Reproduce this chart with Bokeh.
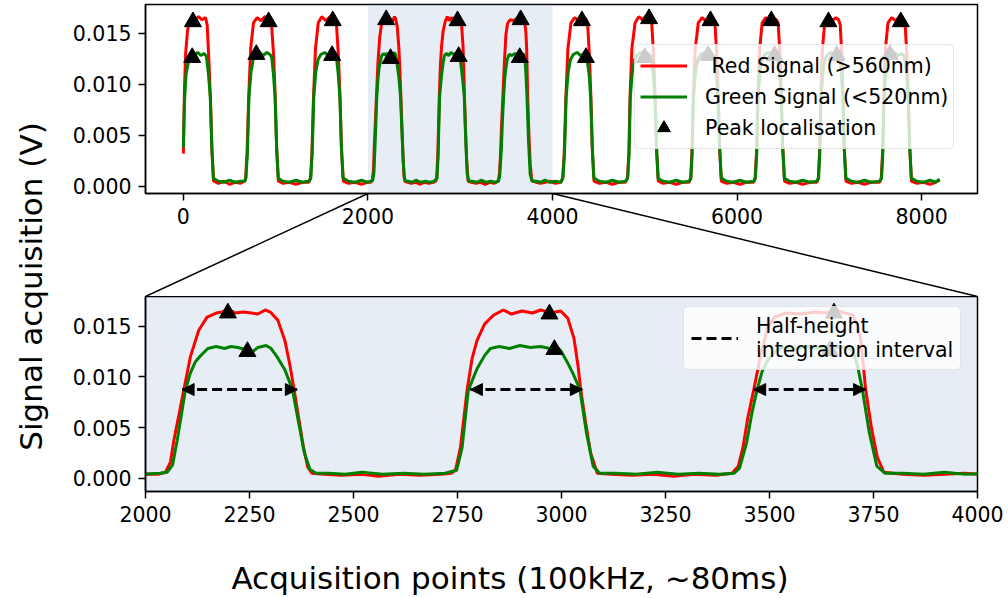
from math import pi
from bokeh.plotting import figure
from bokeh.layouts import row, column
from bokeh.models import (FixedTicker, NumeralTickFormatter, BoxAnnotation, Arrow, NormalHead,
                          Legend, LegendItem, Label, Range1d, ColumnDataSource)
from bokeh.embed import file_html
from bokeh.resources import INLINE

FONT = "DejaVu Sans"

# ---------------- data ----------------
red_signal = [
    (0, 0.0032), (12, 0.0095), (25, 0.0130), (45, 0.0152), (65, 0.0162), (95, 0.0166), (130, 0.0163),
    (165, 0.0166), (200, 0.0163), (240, 0.0165), (258, 0.0158), (276, 0.0125), (294, 0.0085), (310, 0.0035),
    (328, 0.0005), (380, 0.0003), (440, 0.0005), (500, 0.0002), (560, 0.0004), (620, 0.0003), (665, 0.0005),
    (675, 0.0008), (690, 0.0032), (708, 0.0087), (730, 0.0135), (760, 0.0160), (800, 0.0165), (840, 0.0162),
    (885, 0.0166), (925, 0.0164), (955, 0.0160), (978, 0.0128), (996, 0.0087), (1012, 0.0035), (1030, 0.0005),
    (1080, 0.0003), (1150, 0.0004), (1220, 0.0002), (1290, 0.0004), (1360, 0.0004),
    (1378, 0.0008), (1393, 0.0032), (1410, 0.0087), (1432, 0.0135), (1462, 0.0160), (1500, 0.0166),
    (1545, 0.0162), (1590, 0.0166), (1630, 0.0164), (1658, 0.0160), (1680, 0.0128), (1698, 0.0087),
    (1714, 0.0035), (1734, 0.0005), (1790, 0.0003), (1860, 0.0004), (1930, 0.0002), (1990, 0.0004),
    (2030, 0.0004),
    (2048, 0.0006), (2060, 0.0016), (2068, 0.0037), (2080, 0.0062), (2092, 0.0087), (2108, 0.0120),
    (2128, 0.0146), (2148, 0.0159), (2170, 0.0163), (2185, 0.0164), (2200, 0.0167), (2215, 0.0163),
    (2235, 0.0164), (2255, 0.0163), (2270, 0.0162), (2288, 0.0166), (2300, 0.0164), (2318, 0.0156),
    (2335, 0.0136), (2347, 0.0112), (2357, 0.0088), (2368, 0.0060), (2380, 0.0030), (2390, 0.0011),
    (2400, 0.0005), (2430, 0.0004), (2470, 0.0003), (2520, 0.0004), (2560, 0.0002), (2610, 0.0004),
    (2660, 0.0003), (2710, 0.0004), (2735, 0.0005),
    (2745, 0.0008), (2757, 0.0030), (2773, 0.0087), (2785, 0.0118), (2797, 0.0136), (2815, 0.0152),
    (2837, 0.0161), (2860, 0.0166), (2880, 0.0162), (2905, 0.0165), (2930, 0.0163), (2950, 0.0166),
    (2975, 0.0163), (2998, 0.0165), (3015, 0.0158), (3030, 0.0138), (3040, 0.0110), (3046, 0.0088),
    (3058, 0.0055), (3070, 0.0025), (3086, 0.0005), (3120, 0.0004), (3170, 0.0003), (3220, 0.0004),
    (3270, 0.0002), (3320, 0.0004), (3370, 0.0003), (3410, 0.0005),
    (3425, 0.0012), (3436, 0.0030), (3448, 0.0060), (3462, 0.0087), (3478, 0.0120), (3495, 0.0148),
    (3512, 0.0159), (3540, 0.0163), (3575, 0.0162), (3610, 0.0164), (3640, 0.0163), (3655, 0.0167),
    (3680, 0.0163), (3700, 0.0161), (3712, 0.0150), (3720, 0.0135), (3731, 0.0088), (3745, 0.0050),
    (3759, 0.0021), (3775, 0.0006), (3820, 0.0004), (3870, 0.0003), (3920, 0.0004), (3970, 0.0005),
    (4030, 0.0003), (4090, 0.0004),
    (4110, 0.0008), (4127, 0.0032), (4145, 0.0087), (4167, 0.0135), (4200, 0.0160), (4240, 0.0165),
    (4285, 0.0162), (4320, 0.0165), (4360, 0.0164), (4380, 0.0160), (4400, 0.0128), (4416, 0.0087),
    (4432, 0.0035), (4450, 0.0005), (4510, 0.0003), (4580, 0.0004), (4650, 0.0002), (4720, 0.0004),
    (4790, 0.0004),
    (4812, 0.0008), (4827, 0.0032), (4840, 0.0087), (4860, 0.0135), (4895, 0.0160), (4935, 0.0166),
    (4975, 0.0163), (5015, 0.0167), (5050, 0.0165), (5075, 0.0160), (5095, 0.0128), (5112, 0.0087),
    (5128, 0.0035), (5146, 0.0005), (5200, 0.0003), (5270, 0.0004), (5340, 0.0002), (5410, 0.0004),
    (5480, 0.0004),
    (5497, 0.0008), (5510, 0.0032), (5525, 0.0087), (5547, 0.0135), (5580, 0.0160), (5620, 0.0165),
    (5660, 0.0162), (5705, 0.0166), (5740, 0.0164), (5760, 0.0160), (5780, 0.0128), (5796, 0.0087),
    (5812, 0.0035), (5830, 0.0005), (5890, 0.0003), (5960, 0.0004), (6030, 0.0002), (6100, 0.0004),
    (6180, 0.0004),
    (6195, 0.0008), (6210, 0.0032), (6225, 0.0087), (6245, 0.0135), (6272, 0.0160), (6310, 0.0165),
    (6350, 0.0162), (6390, 0.0165), (6425, 0.0163), (6445, 0.0160), (6465, 0.0128), (6480, 0.0087),
    (6496, 0.0035), (6514, 0.0005), (6570, 0.0003), (6640, 0.0004), (6710, 0.0002), (6790, 0.0004),
    (6865, 0.0004),
    (6880, 0.0008), (6893, 0.0032), (6907, 0.0087), (6925, 0.0135), (6950, 0.0160), (6990, 0.0165),
    (7030, 0.0162), (7070, 0.0165), (7100, 0.0163), (7118, 0.0158), (7134, 0.0128), (7148, 0.0087),
    (7162, 0.0035), (7180, 0.0005), (7240, 0.0003), (7310, 0.0004), (7380, 0.0002), (7450, 0.0004),
    (7545, 0.0004),
    (7562, 0.0008), (7576, 0.0032), (7590, 0.0087), (7608, 0.0135), (7635, 0.0160), (7675, 0.0165),
    (7720, 0.0162), (7760, 0.0166), (7800, 0.0164), (7820, 0.0160), (7840, 0.0128), (7856, 0.0087),
    (7872, 0.0035), (7890, 0.0005), (7950, 0.0003), (8020, 0.0004), (8090, 0.0002), (8150, 0.0004),
    (8195, 0.0006),
]

green_signal = [
    (0, 0.0038), (12, 0.0082), (30, 0.0110), (60, 0.0124), (85, 0.0130), (120, 0.0128), (155, 0.0131),
    (190, 0.0128), (225, 0.0130), (250, 0.0127), (272, 0.0110), (292, 0.0087), (308, 0.0040), (325, 0.0008),
    (380, 0.0005), (440, 0.0004), (500, 0.0006), (560, 0.0004), (620, 0.0005), (665, 0.0005),
    (678, 0.0008), (694, 0.0032), (711, 0.0087), (733, 0.0112), (757, 0.0124), (785, 0.0129), (825, 0.0131),
    (865, 0.0128), (905, 0.0131), (940, 0.0129), (958, 0.0126), (976, 0.0110), (994, 0.0087), (1010, 0.0040),
    (1028, 0.0008), (1080, 0.0005), (1150, 0.0004), (1220, 0.0006), (1290, 0.0004), (1360, 0.0005),
    (1381, 0.0008), (1396, 0.0032), (1413, 0.0087), (1435, 0.0112), (1460, 0.0124), (1490, 0.0129),
    (1530, 0.0131), (1570, 0.0128), (1610, 0.0130), (1645, 0.0128), (1660, 0.0125), (1678, 0.0110),
    (1696, 0.0087), (1712, 0.0040), (1730, 0.0008), (1790, 0.0005), (1860, 0.0004), (1930, 0.0006),
    (1990, 0.0004), (2035, 0.0005),
    (2052, 0.0006), (2065, 0.0013), (2076, 0.0037), (2086, 0.0062), (2096, 0.0087), (2108, 0.0104),
    (2120, 0.0115), (2135, 0.0122), (2150, 0.0128), (2170, 0.0130), (2190, 0.0128), (2205, 0.0130),
    (2222, 0.0129), (2240, 0.0127), (2255, 0.0124), (2270, 0.0129), (2290, 0.0131), (2302, 0.0128),
    (2316, 0.0120), (2335, 0.0107), (2353, 0.0088), (2368, 0.0055), (2382, 0.0025), (2395, 0.0009),
    (2410, 0.0005), (2440, 0.0005), (2480, 0.0004), (2520, 0.0006), (2570, 0.0004), (2620, 0.0005),
    (2670, 0.0004), (2720, 0.0005),
    (2748, 0.0008), (2761, 0.0030), (2776, 0.0087), (2797, 0.0108), (2815, 0.0121), (2829, 0.0128),
    (2850, 0.0130), (2875, 0.0128), (2900, 0.0131), (2925, 0.0129), (2950, 0.0130), (2972, 0.0128),
    (2985, 0.0131), (2998, 0.0126), (3012, 0.0116), (3028, 0.0103), (3044, 0.0088), (3060, 0.0045),
    (3076, 0.0012), (3092, 0.0005), (3130, 0.0005), (3180, 0.0004), (3230, 0.0006), (3280, 0.0004),
    (3330, 0.0005), (3380, 0.0004), (3415, 0.0005),
    (3428, 0.0010), (3445, 0.0035), (3458, 0.0065), (3470, 0.0087), (3482, 0.0105), (3494, 0.0115),
    (3510, 0.0124), (3530, 0.0129), (3560, 0.0128), (3595, 0.0130), (3625, 0.0128), (3660, 0.0130),
    (3690, 0.0129), (3702, 0.0124), (3712, 0.0110), (3723, 0.0088), (3740, 0.0045), (3758, 0.0012),
    (3778, 0.0005), (3820, 0.0005), (3870, 0.0004), (3920, 0.0006), (3970, 0.0004), (4030, 0.0005),
    (4090, 0.0004),
    (4113, 0.0008), (4130, 0.0032), (4148, 0.0087), (4170, 0.0112), (4195, 0.0124), (4225, 0.0129),
    (4265, 0.0131), (4305, 0.0128), (4345, 0.0130), (4370, 0.0127), (4396, 0.0110), (4414, 0.0087),
    (4430, 0.0040), (4448, 0.0008), (4510, 0.0005), (4580, 0.0004), (4650, 0.0006), (4720, 0.0004),
    (4790, 0.0005),
    (4815, 0.0008), (4830, 0.0032), (4843, 0.0087), (4865, 0.0112), (4890, 0.0124), (4920, 0.0129),
    (4960, 0.0131), (5000, 0.0128), (5040, 0.0130), (5068, 0.0127), (5092, 0.0110), (5110, 0.0087),
    (5126, 0.0040), (5144, 0.0008), (5200, 0.0005), (5270, 0.0004), (5340, 0.0006), (5410, 0.0004),
    (5480, 0.0005),
    (5500, 0.0008), (5513, 0.0032), (5528, 0.0087), (5550, 0.0112), (5575, 0.0124), (5605, 0.0129),
    (5645, 0.0131), (5685, 0.0129), (5725, 0.0130), (5752, 0.0127), (5776, 0.0110), (5794, 0.0087),
    (5810, 0.0040), (5828, 0.0008), (5890, 0.0005), (5960, 0.0004), (6030, 0.0006), (6100, 0.0004),
    (6180, 0.0005),
    (6198, 0.0008), (6213, 0.0032), (6228, 0.0087), (6248, 0.0112), (6272, 0.0124), (6300, 0.0129),
    (6340, 0.0131), (6380, 0.0128), (6410, 0.0130), (6437, 0.0127), (6461, 0.0110), (6478, 0.0087),
    (6494, 0.0040), (6512, 0.0008), (6570, 0.0005), (6640, 0.0004), (6710, 0.0006), (6790, 0.0004),
    (6865, 0.0005),
    (6883, 0.0008), (6896, 0.0032), (6910, 0.0087), (6930, 0.0112), (6952, 0.0124), (6980, 0.0129),
    (7020, 0.0131), (7060, 0.0128), (7090, 0.0130), (7110, 0.0126), (7130, 0.0110), (7146, 0.0087),
    (7160, 0.0040), (7178, 0.0008), (7240, 0.0005), (7310, 0.0004), (7380, 0.0006), (7450, 0.0004),
    (7545, 0.0005),
    (7565, 0.0008), (7579, 0.0032), (7593, 0.0087), (7613, 0.0112), (7636, 0.0124), (7665, 0.0129),
    (7705, 0.0131), (7745, 0.0128), (7785, 0.0130), (7812, 0.0127), (7836, 0.0110), (7854, 0.0087),
    (7870, 0.0040), (7888, 0.0008), (7950, 0.0005), (8020, 0.0004), (8090, 0.0006), (8150, 0.0004),
    (8195, 0.0007),
]

red_x = [p[0] for p in red_signal]
red_v = [p[1] for p in red_signal]
green_x = [p[0] for p in green_signal]
green_v = [p[1] for p in green_signal]

red_peak_x = [104, 924, 1619, 2198, 2971, 3655, 4319, 5046, 5712, 6371, 6990, 7774]
red_peak_v = [0.0161, 0.0161, 0.0162, 0.0163, 0.0162, 0.0163, 0.0162, 0.0164, 0.0162, 0.0162, 0.0161, 0.0161]
green_peak_x = [96, 791, 1612, 2245, 2983, 3645, 4362, 4999, 5687, 6406, 7080, 7656]
green_peak_v = [0.0126, 0.0129, 0.0128, 0.0125, 0.0127, 0.0126, 0.0126, 0.0126, 0.0128, 0.0128, 0.0128, 0.0129]

half_x_start = [2088, 2781, 3462]
half_x_end = [2365, 3050, 3731]
half_level = [0.00875, 0.00875, 0.00875]

top_xlim = (-410, 8605)
top_ylim = (-0.0007, 0.01779)
zoom_xlim = (2000, 4000)
zoom_ylim = (-0.0013, 0.01793)
top_xticks = [0, 2000, 4000, 6000, 8000]
zoom_xticks = [2000, 2250, 2500, 2750, 3000, 3250, 3500, 3750, 4000]
y_ticks = [0.0, 0.005, 0.010, 0.015]

RED = "#ff0000"
GREEN = "#008000"
SHADE = "#b0c4de"
LW = 3.0
TRI = 17

# ---------------- helpers ----------------
def style(p, xticks):
    p.outline_line_color = "black"
    p.outline_line_width = 1.5
    p.xgrid.visible = False
    p.ygrid.visible = False
    for ax in (p.xaxis[0], p.yaxis[0]):
        ax.axis_line_color = "black"
        ax.axis_line_width = 1.5
        ax.major_tick_line_color = "black"
        ax.major_tick_line_width = 1.5
        ax.major_tick_out = 7
        ax.major_tick_in = 0
        ax.minor_tick_line_color = None
        ax.major_label_text_font = FONT
        ax.major_label_text_font_size = "20.5px"
        ax.major_label_text_color = "black"
        ax.major_label_standoff = 7
    p.xaxis[0].ticker = FixedTicker(ticks=xticks)
    p.yaxis[0].ticker = FixedTicker(ticks=y_ticks)
    p.yaxis[0].formatter = NumeralTickFormatter(format="0.000")


def style_legend(lg, row_h, pad):
    lg.label_text_font = FONT
    lg.label_text_font_size = "20.5px"
    lg.label_text_color = "black"
    lg.glyph_width = 47
    lg.glyph_height = row_h
    lg.label_height = row_h
    lg.spacing = 0
    lg.padding = pad
    lg.margin = 0
    lg.label_standoff = 18
    lg.background_fill_alpha = 0.8
    lg.border_line_color = "#cccccc"
    lg.border_line_width = 1.5
    if "border_radius" in Legend.properties():
        lg.border_radius = 5


# ---------------- layout sizes ----------------
PAGE_W, PAGE_H = 1008, 598
LEFT_W = 60
top_h = 296
top_border_bottom = 103
bot_h = 244

# ---------------- top (overview) panel ----------------
top_xr = Range1d(*top_xlim)
top = figure(width=PAGE_W - LEFT_W, height=top_h,
             x_range=top_xr, y_range=Range1d(*top_ylim),
             output_backend="svg", toolbar_location=None,
             min_border_left=85, min_border_right=31, min_border_top=4,
             min_border_bottom=top_border_bottom)
style(top, top_xticks)
top.background_fill_color = "white"
top.border_fill_color = "white"

top.add_layout(BoxAnnotation(left=zoom_xlim[0], right=zoom_xlim[1], fill_color=SHADE,
                             fill_alpha=0.3, line_alpha=0, level="underlay"))

r_red = top.line(red_x, red_v, line_color=RED, line_width=LW)
r_green = top.line(green_x, green_v, line_color=GREEN, line_width=LW)
r_pr = top.scatter(red_peak_x, red_peak_v, marker="triangle", size=TRI, color="black")
r_pg = top.scatter(green_peak_x, green_peak_v, marker="triangle", size=TRI, color="black")

leg = Legend(items=[LegendItem(label=" Red Signal (>560nm)", renderers=[r_red]),
                    LegendItem(label="Green Signal (<520nm)", renderers=[r_green]),
                    LegendItem(label="Peak localisation", renderers=[r_pr, r_pg])],
             location=(489, 44))
style_legend(leg, 31, 5)
top.add_layout(leg)

# ---------------- connector overlay (transparent, overlaps top panel's lower border) ----------------
conn = figure(width=PAGE_W - LEFT_W, height=top_border_bottom,
              x_range=top_xr, y_range=Range1d(0, 1),
              output_backend="svg", toolbar_location=None,
              x_axis_location=None, y_axis_location=None,
              min_border_left=85, min_border_right=31, min_border_top=0, min_border_bottom=0,
              outline_line_color=None, margin=(-top_border_bottom, 0, 0, 0))
conn.grid.visible = False
conn.background_fill_alpha = 0
conn.border_fill_alpha = 0
conn.segment(x0=[zoom_xlim[0], zoom_xlim[1]], y0=[1, 1], x1=[top_xlim[0], top_xlim[1]], y1=[0, 0],
             line_color="black", line_width=1.5)

# ---------------- bottom (zoom) panel ----------------
bot = figure(width=PAGE_W - LEFT_W, height=bot_h,
             x_range=Range1d(*zoom_xlim), y_range=Range1d(*zoom_ylim),
             output_backend="svg", toolbar_location=None,
             min_border_left=85, min_border_right=31, min_border_top=0, min_border_bottom=49)
style(bot, zoom_xticks)
bot.background_fill_color = SHADE
bot.background_fill_alpha = 0.3
bot.border_fill_color = "white"

bot.line(red_x, red_v, line_color=RED, line_width=LW)
bot.line(green_x, green_v, line_color=GREEN, line_width=LW)
bot.scatter(red_peak_x, red_peak_v, marker="triangle", size=TRI, color="black")
bot.scatter(green_peak_x, green_peak_v, marker="triangle", size=TRI, color="black")

half_src = ColumnDataSource(dict(x0=half_x_start, x1=half_x_end, y=half_level))
r_half = bot.segment(x0="x0", y0="y", x1="x1", y1="y", source=half_src,
                     line_color="black", line_width=3, line_dash="10 5")
bot.add_layout(Arrow(source=half_src, x_start="x0", y_start="y", x_end="x1", y_end="y",
                     line_alpha=0,
                     start=NormalHead(size=12, fill_color="black", line_color="black", line_width=1),
                     end=NormalHead(size=12, fill_color="black", line_color="black", line_width=1)))

leg2 = Legend(items=[LegendItem(label="Half-height\nintegration interval", renderers=[r_half])],
              location=(538, 121))
style_legend(leg2, 24, 7)
bot.add_layout(leg2)

# ---------------- shared axis labels ----------------
ylab_h = top_h + bot_h
ylab = figure(width=LEFT_W, height=ylab_h, x_range=Range1d(0, LEFT_W), y_range=Range1d(0, ylab_h),
              output_backend="svg", toolbar_location=None, x_axis_location=None, y_axis_location=None,
              min_border=0, outline_line_color=None)
ylab.grid.visible = False
ylab.add_layout(Label(x=30, y=ylab_h - 286, text="Signal acquisition (V)", angle=pi / 2,
                      text_align="center", text_baseline="middle", text_font=FONT,
                      text_font_size="31px", text_color="black"))

xlab_h = PAGE_H - ylab_h
xlab = figure(width=PAGE_W, height=xlab_h, x_range=Range1d(0, PAGE_W), y_range=Range1d(0, xlab_h),
              output_backend="svg", toolbar_location=None, x_axis_location=None, y_axis_location=None,
              min_border=0, outline_line_color=None)
xlab.grid.visible = False
xlab.add_layout(Label(x=509.5, y=xlab_h - 37, text="Acquisition points (100kHz, ~80ms)",
                      text_align="center", text_baseline="middle", text_font=FONT,
                      text_font_size="31px", text_color="black"))

layout = column(row(ylab, column(top, conn, bot, spacing=0), spacing=0), xlab, spacing=0)

open("out.html", "w").write(file_html(layout, INLINE))
